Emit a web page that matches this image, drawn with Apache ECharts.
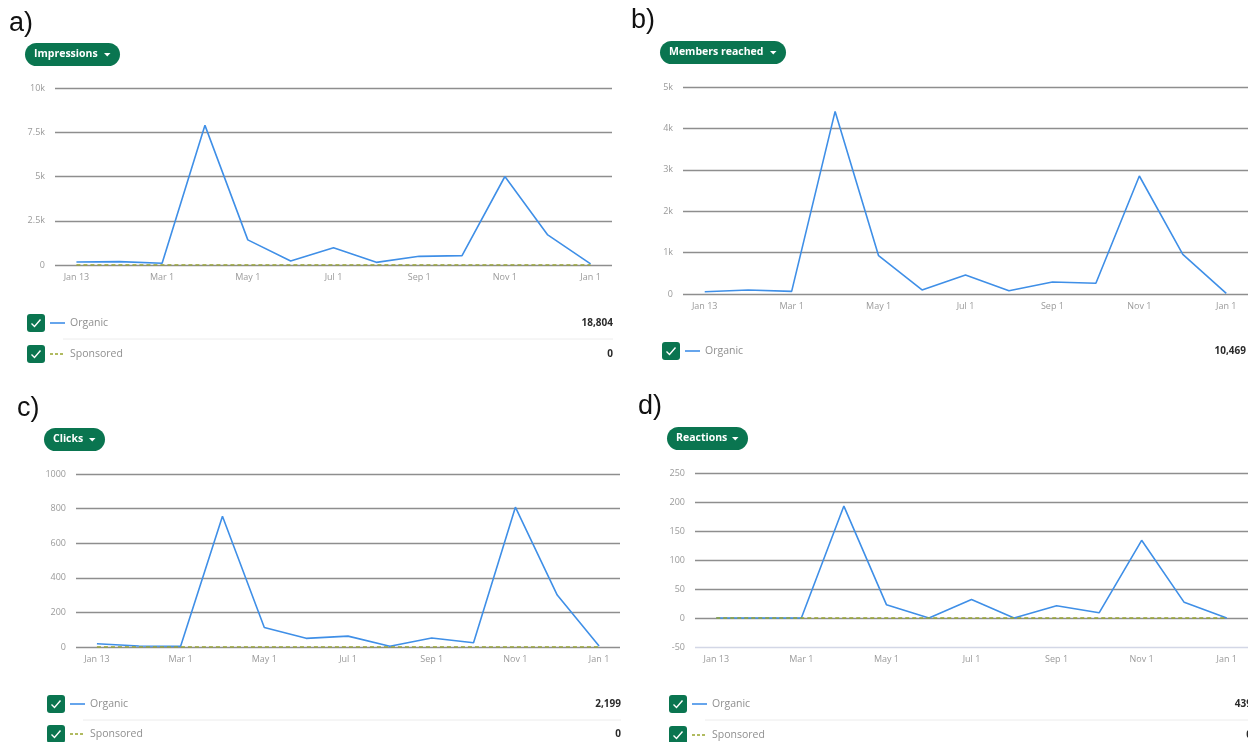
<!DOCTYPE html>
<html>
<head>
<meta charset="utf-8">
<script src="https://cdn.jsdelivr.net/npm/echarts@6/dist/echarts.min.js"></script>
<style>
html,body{margin:0;padding:0;background:#fff;}
#c{width:1248px;height:742px;}
</style>
</head>
<body>
<div id="c"></div>
<script>
// ---- data ----
var categories = ['Jan 13','Feb 13','Mar 1','Apr 1','May 1','Jun 1','Jul 1','Aug 1','Sep 1','Oct 1','Nov 1','Dec 1','Jan 1'];
var impressionsOrganic   = [170,190,100,7890,1420,230,980,150,490,530,5000,1700,60];
var impressionsSponsored = [0,0,0,0,0,0,0,0,0,0,0,0,0];
var membersOrganic       = [56,97,64,4410,926,97,459,80,290,258,2850,958,16];
var clicksOrganic        = [19,6,4,756,113,50,63,4,52,25,808,300,6];
var clicksSponsored      = [0,0,0,0,0,0,0,0,0,0,0,0,0];
var reactionsOrganic     = [0,0,0,193,23,0,32,0,21,9,134,27,0];
var reactionsSponsored   = [0,0,0,0,0,0,0,0,0,0,0,0,0];
var metricNames  = ['Impressions','Members reached','Clicks','Reactions'];
var panelLetters = ['a)','b)','c)','d)'];
var organicTotals   = ['18,804','10,469','2,199','439'];
var sponsoredTotals = ['0',null,'0','0'];

// ---- styling ----
var GREEN = '#0a7550';
var BLUE = '#3f8fe7';
var OLIVE = '#98a52e';
var GRID = '#8e8e8e';
var FONT = '"Open Sans", "Noto Sans", sans-serif';

var chart = echarts.init(document.getElementById('c'), null, {renderer:'canvas'});

var grids = [
  {left:55, right:636, top:88, bottom:477},
  {left:683, right:0, top:87, bottom:448},
  {left:76, right:628, top:474, bottom:95},
  {left:695, right:0, top:473, bottom:95}
];
var yCfg = [
  {min:0, max:10000, interval:2500, fmt:function(v){return v===0?'0':(v/1000)+'k';}},
  {min:0, max:5000, interval:1000, fmt:function(v){return v===0?'0':(v/1000)+'k';}},
  {min:0, max:1000, interval:200, fmt:function(v){return String(v);}},
  {min:-50, max:250, interval:50, fmt:function(v){return String(v);}}
];

var xAxes = [], yAxes = [];
for (var i=0;i<4;i++){
  xAxes.push({
    type:'category', gridIndex:i, data:categories, boundaryGap:true,
    axisLine:{show:false}, axisTick:{show:false},
    axisLabel:{interval:1, color:'#9a9a9a', fontSize:9, fontFamily:FONT, margin:8}
  });
  var splitColor = i===3 ? ['#d3d7e6',GRID,GRID,GRID,GRID,GRID,GRID] : GRID;
  yAxes.push({
    type:'value', gridIndex:i, min:yCfg[i].min, max:yCfg[i].max, interval:yCfg[i].interval,
    axisLine:{show:false}, axisTick:{show:false},
    axisLabel:{formatter:yCfg[i].fmt, color:'#9a9a9a', fontSize:9, fontFamily:FONT, margin:10},
    splitLine:{show:true, lineStyle:{color:splitColor, width:1.3}}
  });
}

function organicSeries(idx, data){
  return {type:'line', name:'Organic', xAxisIndex:idx, yAxisIndex:idx, data:data,
    symbol:'none', lineStyle:{color:BLUE, width:1.6}, itemStyle:{color:BLUE}, z:3, animation:false};
}
function sponsoredSeries(idx, data){
  return {type:'line', name:'Sponsored', xAxisIndex:idx, yAxisIndex:idx, data:data,
    symbol:'none', lineStyle:{color:OLIVE, width:1.4, type:[4,3]}, itemStyle:{color:OLIVE}, z:4, animation:false};
}
var series = [
  organicSeries(0, impressionsOrganic), sponsoredSeries(0, impressionsSponsored),
  organicSeries(1, membersOrganic),
  organicSeries(2, clicksOrganic), sponsoredSeries(2, clicksSponsored),
  organicSeries(3, reactionsOrganic), sponsoredSeries(3, reactionsSponsored)
];

// ---- decorations ----
var graphics = [];
var letterPos = [[9,26],[631,23],[17,411],[638,409]];
for (var i=0;i<4;i++){
  graphics.push({type:'text', left:letterPos[i][0], top:letterPos[i][1]-16,
    style:{text:panelLetters[i], font:'27px "Liberation Sans", Arial, sans-serif', fill:'#111'}});
}
var pills = [[25,43,95],[660,41,126],[44,428,61],[667,427,81]];
for (var i=0;i<4;i++){
  var p = pills[i], h=23;
  graphics.push({type:'rect', shape:{x:p[0], y:p[1], width:p[2], height:h, r:h/2}, style:{fill:GREEN}});
  graphics.push({type:'text', x:p[0]+9, y:p[1]+h/2,
    style:{text:metricNames[i], font:'bold 10.5px '+FONT, fill:'#fff', textVerticalAlign:'middle', textAlign:'left'}});
  var tx = p[0]+p[2]-16;
  graphics.push({type:'polygon', shape:{points:[[tx,p[1]+10],[tx+6.5,p[1]+10],[tx+3.25,p[1]+13.5]]}, style:{fill:'#fff'}});
}
function checkbox(x,y){
  graphics.push({type:'rect', shape:{x:x, y:y, width:18, height:18, r:3}, style:{fill:GREEN}});
  graphics.push({type:'polyline', shape:{points:[[x+4.5,y+9.5],[x+7.5,y+12.5],[x+13.5,y+5.5]]},
    style:{stroke:'#fff', lineWidth:1.4, fill:null}});
}
function legendRow(x, cy, label, value, rightX, dashed){
  checkbox(x, cy-9);
  graphics.push({type:'line', shape:{x1:x+23, y1:cy, x2:x+38, y2:cy},
    style:{stroke: dashed?OLIVE:BLUE, lineWidth:1.6, lineDash: dashed?[3,2]:null}});
  graphics.push({type:'text', x:x+43, y:cy+0.5,
    style:{text:label, font:'10.5px '+FONT, fill:'#8f8f8f', textVerticalAlign:'middle'}});
  graphics.push({type:'text', x:rightX, y:cy+0.5,
    style:{text:value, font:'bold 10px '+FONT, fill:'#2b2b2b', textVerticalAlign:'middle', textAlign:'right'}});
}
var legendCfg = [
  {x:27, y1:323, y2:354, right:613, sepY:339},
  {x:662, y1:351, y2:null, right:1246, sepY:null},
  {x:47, y1:704, y2:734, right:621, sepY:720},
  {x:669, y1:704, y2:735, right:1252, sepY:720}
];
for (var i=0;i<4;i++){
  var L = legendCfg[i];
  legendRow(L.x, L.y1, 'Organic', organicTotals[i], L.right, false);
  if (L.sepY){
    graphics.push({type:'line', shape:{x1:L.x+36, y1:L.sepY, x2:L.right, y2:L.sepY},
      style:{stroke:'#ececec', lineWidth:1}});
  }
  if (L.y2 && sponsoredTotals[i]!==null){
    legendRow(L.x, L.y2, 'Sponsored', sponsoredTotals[i], L.right, true);
  }
}

chart.setOption({
  animation:false,
  backgroundColor:'#fff',
  grid: grids.map(function(g){return {left:g.left, right:g.right, top:g.top, bottom:g.bottom, containLabel:false};}),
  xAxis:xAxes,
  yAxis:yAxes,
  series:series,
  graphic:{elements:graphics}
});
</script>
</body>
</html>
